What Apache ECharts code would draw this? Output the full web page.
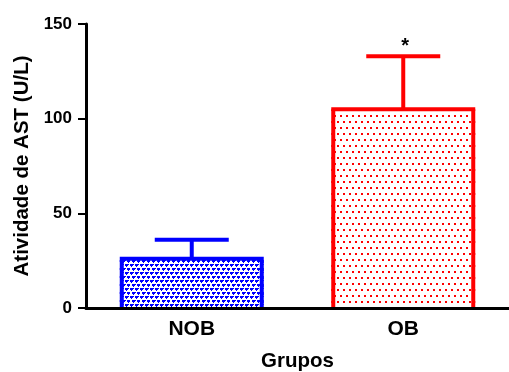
<!DOCTYPE html>
<html>
<head>
<meta charset="utf-8">
<script src="https://cdn.jsdelivr.net/npm/echarts@6/dist/echarts.min.js"></script>
<style>
  html, body { margin: 0; padding: 0; background: #fff; }
  #chart { width: 509px; height: 372px; }
</style>
</head>
<body>
<div id="chart"></div>
<script>
// Group names, mean AST activity and SEM (U/L)
const categories = ['NOB', 'OB'];
const means = [26, 105];
const sem = [10, 28];
const marks = ['', '*'];
const yTicks = [0, 50, 100, 150];

const FONT = '"Liberation Sans", Arial, Helvetica, sans-serif';
const BLUE = '#0000ff';
const RED = '#ff0000';
const BAR_PX = 144;

// Blue fill: small "T" glyphs in staggered rows
function bluePattern() {
  const c = document.createElement('canvas');
  c.width = 10; c.height = 8;
  const g = c.getContext('2d');
  g.fillStyle = '#fff'; g.fillRect(0, 0, 10, 8);
  g.fillStyle = BLUE;
  const glyph = (x, y) => {
    g.fillRect(x, y, 4, 1);
    g.fillRect(x, y + 1, 3, 1);
    g.fillRect(x + 1, y + 2, 1, 1);
  };
  glyph(0, 0); glyph(5, 0);
  glyph(2, 4); glyph(7, 4);
  return c;
}

// Red fill: staggered 2px dots
function redPattern() {
  const c = document.createElement('canvas');
  c.width = 6; c.height = 12;
  const g = c.getContext('2d');
  g.fillStyle = '#fff'; g.fillRect(0, 0, 6, 12);
  g.fillStyle = RED;
  g.fillRect(1, 1, 2, 2);
  g.fillRect(4, 7, 2, 2);
  return c;
}

const fills = [
  { image: bluePattern(), repeat: 'repeat' },
  { image: redPattern(), repeat: 'repeat' }
];
const strokes = [BLUE, RED];

const chart = echarts.init(document.getElementById('chart'), null, { renderer: 'canvas' });

chart.setOption({
  animation: false,
  backgroundColor: '#fff',
  grid: { left: 86, right: 0, top: 24, bottom: 64, containLabel: false, outerBoundsMode: 'none' },
  xAxis: {
    type: 'category',
    data: categories,
    name: 'Grupos',
    nameLocation: 'middle',
    nameGap: 43,
    nameTextStyle: { fontFamily: FONT, fontWeight: 'bold', fontSize: 20.5, color: '#000' },
    axisLine: { lineStyle: { color: '#000', width: 3 } },
    axisTick: { alignWithLabel: true, length: 8, lineStyle: { color: '#000', width: 2 } },
    axisLabel: { fontFamily: FONT, fontWeight: 'bold', fontSize: 21, color: '#000', margin: 11 },
    splitLine: { show: false },
    z: 5
  },
  yAxis: {
    type: 'value',
    min: yTicks[0],
    max: yTicks[yTicks.length - 1],
    interval: yTicks[1] - yTicks[0],
    name: 'Atividade de AST (U/L)',
    nameLocation: 'middle',
    nameGap: 53,
    nameTextStyle: { fontFamily: FONT, fontWeight: 'bold', fontSize: 20.5, color: '#000' },
    axisLine: { show: true, lineStyle: { color: '#000', width: 3 } },
    axisTick: { show: true, length: 8, lineStyle: { color: '#000', width: 2 } },
    axisLabel: { fontFamily: FONT, fontWeight: 'bold', fontSize: 17, color: '#000', margin: 14 },
    splitLine: { show: false },
    z: 5
  },
  series: [
    {
      // Patterned fill of each bar
      type: 'bar',
      barWidth: BAR_PX,
      z: 1,
      data: means.map((v, i) => ({
        value: v,
        itemStyle: { color: fills[i], borderWidth: 0 }
      }))
    },
    {
      // Open-bottom bar outline, upper SEM whisker with cap, significance mark
      type: 'custom',
      z: 3,
      data: means.map((m, i) => [i, m, m + sem[i]]),
      renderItem: function (params, api) {
        const i = api.value(0);
        const zero = api.coord([i, 0]);
        const base = api.coord([i, api.value(1)]);
        const top = api.coord([i, api.value(2)]);
        const hw = BAR_PX / 2 - 2;
        const half = 37;
        const style = { stroke: strokes[i], lineWidth: 4, fill: null };
        const children = [
          {
            type: 'polyline',
            shape: { points: [[base[0] - hw, zero[1]], [base[0] - hw, base[1]], [base[0] + hw, base[1]], [base[0] + hw, zero[1]]] },
            style: Object.assign({ lineJoin: 'miter' }, style)
          },
          { type: 'line', shape: { x1: base[0], y1: base[1], x2: top[0], y2: top[1] }, style: style },
          { type: 'line', shape: { x1: top[0] - half, y1: top[1], x2: top[0] + half, y2: top[1] }, style: style }
        ];
        if (marks[i]) {
          children.push({
            type: 'text',
            style: {
              text: marks[i], x: top[0] + 2, y: top[1],
              align: 'center', verticalAlign: 'bottom',
              fontFamily: FONT, fontWeight: 'bold', fontSize: 20, fill: '#000'
            }
          });
        }
        return { type: 'group', children: children };
      }
    }
  ]
});
</script>
</body>
</html>
